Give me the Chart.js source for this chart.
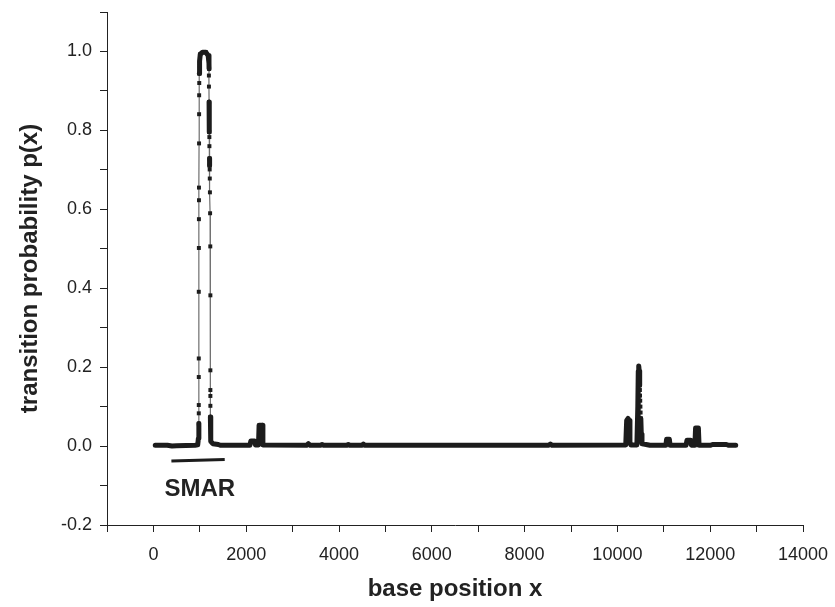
<!DOCTYPE html>
<html>
<head>
<meta charset="utf-8">
<script src="https://cdn.jsdelivr.net/npm/chart.js@4"></script>
<style>
  body { margin: 0; background: #fff; }
  #wrap { width: 835px; height: 607px; }
</style>
</head>
<body>
<div id="wrap"><canvas id="myChart"></canvas></div>
<script>
// resolved markers on the peak flanks (null = break)
const sampleX = [978, 978, 978, 978, 978, 978, 980, 981, 982, 982, 984, 985, 986, 988, 990,
  1010, 1130, 1200, 1196, 1197, 1200, 1204, 1206, 1207, 1210, 1211, 1213, 1215, 1218, 1222,
  1226, 1228, 1228, 1228, 1228, 1228, 1228,
  10470,
  10480, 10485, 10488, 10492, 10496, 10500, 10505];
const sampleY = [0.057, 0.083, 0.104, 0.175, 0.222, 0.391, 0.502, 0.575, 0.623, 0.655, 0.767, 0.841, 0.889, 0.920, 0.944,
  0.993, 0.998, 0.956, 0.939, 0.911, 0.872, 0.796, 0.783, 0.760, 0.729, 0.711, 0.701, 0.678, 0.643, 0.590,
  0.506, 0.382, 0.192, 0.142, 0.127, 0.102, 0.074,
  null,
  0.154, 0.142, 0.128, 0.115, 0.100, 0.085, 0.070];

// runs where the markers are so dense they merge into a solid trace (null = break)
const denseX = [40, 300, 400, 500, 900, 955, 970, 980,
  980,
  990, 995, 1010, 1060, 1130, 1180, 1198, 1200,
  1200,
  1200, 1204,
  1204,
  1210, 1211,
  1211,
  1228, 1232, 1240, 1280, 1400, 1450, 2080, 2100, 2180, 2200, 2265, 2278, 2345, 2360,
  3300, 3340, 3380, 3600, 3635, 3670, 4170, 4200, 4230, 4500, 4525, 4550,
  8520, 8556, 8590, 10180, 10200, 10230, 10255, 10270, 10290, 10420, 10440, 10450, 10460, 10470, 10480,
  10480,
  10505, 10515, 10530, 10560, 10620, 10700, 11045, 11060, 11120, 11135, 11480, 11500, 11580, 11595,
  11670, 11685, 11745, 11760, 12000, 12050, 12350, 12400, 12550];
const denseY = [0.002, 0.002, 0.000, 0.001, 0.002, 0.003, 0.020, 0.057,
  null,
  0.944, 0.975, 0.993, 0.998, 0.998, 0.990, 0.970, 0.956,
  null,
  0.872, 0.796,
  null,
  0.729, 0.711,
  null,
  0.074, 0.030, 0.012, 0.006, 0.004, 0.002, 0.002, 0.013, 0.013, 0.003, 0.003, 0.053, 0.053, 0.003,
  0.002, 0.006, 0.002, 0.002, 0.004, 0.002, 0.002, 0.004, 0.002, 0.002, 0.005, 0.002,
  0.002, 0.005, 0.002, 0.003, 0.065, 0.070, 0.065, 0.010, 0.003, 0.003, 0.100, 0.190, 0.203, 0.190, 0.154,
  null,
  0.070, 0.030, 0.006, 0.005, 0.004, 0.002, 0.002, 0.017, 0.017, 0.002, 0.002, 0.015, 0.015, 0.002,
  0.002, 0.046, 0.046, 0.002, 0.002, 0.004, 0.004, 0.002, 0.002];

// SMAR region marked under the first peak
const smarX = [388, 1537];
const smarY = [-0.038, -0.034];
const smarText = "SMAR";
const smarLabelX = 1000;
const smarLabelY = -0.109;

const xTicks = { min: -1000, max: 14000, step: 1000 };
const yTicks = { min: -0.2, max: 1.1, step: 0.1 };

const toPoints = (xs, ys) => xs.map((x, i) => ({ x: x, y: ys[i] }));

const smarLabel = {
  id: "smarLabel",
  afterDatasetsDraw(chart) {
    const { ctx, scales } = chart;
    const x = scales.x.getPixelForValue(smarLabelX);
    const y = scales.y.getPixelForValue(smarLabelY);
    ctx.save();
    ctx.font = "bold 24px 'Liberation Sans', Arial, sans-serif";
    ctx.fillStyle = "#222";
    ctx.textAlign = "center";
    ctx.textBaseline = "middle";
    ctx.fillText(smarText, x, y);
    ctx.restore();
  },
};

const tickFont = { family: "'Liberation Sans', Arial, sans-serif", size: 18 };
const titleFont = { family: "'Liberation Sans', Arial, sans-serif", size: 24, weight: "bold" };

const config = {
  type: "line",
  data: {
    datasets: [
      {
        label: "dense",
        data: toPoints(denseX, denseY),
        borderColor: "#1c1c1c",
        borderWidth: 5,
        borderJoinStyle: "round",
        borderCapStyle: "round",
        pointRadius: 0,
        spanGaps: false,
      },
      {
        label: "p(x)",
        data: toPoints(sampleX, sampleY),
        borderColor: "#6e6e6e",
        borderWidth: 1.2,
        pointStyle: "rect",
        pointRadius: 2.8,
        pointBackgroundColor: "#1c1c1c",
        pointBorderWidth: 0,
        spanGaps: false,
      },
      {
        label: "SMAR",
        data: toPoints(smarX, smarY),
        borderColor: "#1c1c1c",
        borderWidth: 3,
        pointRadius: 0,
      },
    ],
  },
  options: {
    responsive: true,
    maintainAspectRatio: false,
    animation: false,
    layout: { padding: { top: 12, right: 32, bottom: 0, left: 0 } },
    plugins: { legend: { display: false }, tooltip: { enabled: false } },
    scales: {
      x: {
        type: "linear",
        min: xTicks.min,
        max: xTicks.max,
        afterFit: (s) => { s.height = 82; s.paddingLeft = 0; s.paddingRight = 0; },
        border: { display: true, color: "#222", width: 1 },
        grid: { drawOnChartArea: false, tickLength: 7, tickColor: "#222" },
        ticks: {
          stepSize: xTicks.step,
          autoSkip: false,
          maxRotation: 0,
          padding: 12,
          color: "#222",
          font: tickFont,
          callback: (v) => (v % 2000 === 0 ? String(v) : ""),
        },
        title: { display: true, text: "base position x", color: "#222", font: titleFont, padding: { top: 0, bottom: 3 } },
      },
      y: {
        min: yTicks.min,
        max: yTicks.max,
        afterFit: (s) => { s.width = 107; s.paddingTop = 0; s.paddingBottom = 0; },
        border: { display: true, color: "#222", width: 1 },
        grid: { drawOnChartArea: false, tickLength: 7, tickColor: "#222" },
        ticks: {
          stepSize: yTicks.step,
          autoSkip: false,
          padding: 8,
          color: "#222",
          font: tickFont,
          callback: (v) => (Math.round(v * 10) % 2 === 0 ? v.toFixed(1) : ""),
        },
        title: { display: true, text: "transition probability p(x)", color: "#222", font: titleFont, padding: { top: 16, bottom: 0 } },
      },
    },
  },
  plugins: [smarLabel],
};

const myChart = new Chart(document.getElementById("myChart"), config);
</script>
</body>
</html>
